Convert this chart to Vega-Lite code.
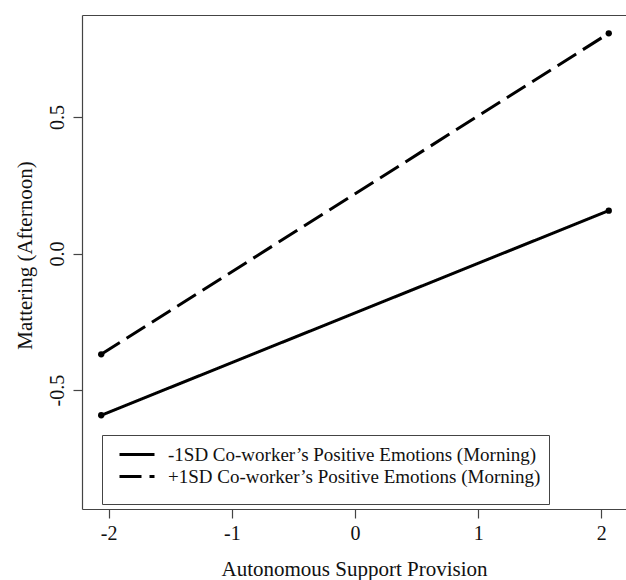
{
  "$schema": "https://vega.github.io/schema/vega-lite/v6.json",
  "width": 544,
  "height": 494,
  "autosize": "none",
  "padding": {"left": 82, "top": 15, "right": 0, "bottom": 71},
  "background": "white",
  "config": {"view": {"stroke": null}, "font": "Liberation Serif"},
  "data": {
    "values": [
      {"group": "-1SD Co-worker’s Positive Emotions (Morning)", "x": -2.06, "y": -0.592},
      {"group": "-1SD Co-worker’s Positive Emotions (Morning)", "x": 2.06, "y": 0.157},
      {"group": "+1SD Co-worker’s Positive Emotions (Morning)", "x": -2.06, "y": -0.369},
      {"group": "+1SD Co-worker’s Positive Emotions (Morning)", "x": 2.06, "y": 0.806}
    ]
  },
  "layer": [
    {
      "mark": {"type": "line", "color": "black", "strokeWidth": 3},
      "encoding": {
        "x": {
          "field": "x", "type": "quantitative",
          "scale": {"domain": [-2.216, 2.2], "nice": false, "zero": false},
          "axis": {
            "orient": "bottom", "values": [-2, -1, 0, 1, 2], "grid": false,
            "title": "Autonomous Support Provision",
            "labelFontSize": 20, "titleFontSize": 21, "titleFontWeight": "normal",
            "labelFont": "Liberation Serif", "titleFont": "Liberation Serif",
            "labelColor": "#111", "titleColor": "#111",
            "domainColor": "#444", "tickColor": "#444", "domainWidth": 1.2, "tickWidth": 1.2,
            "tickSize": 9, "labelPadding": 5, "labelFlush": false,
            "labelExpr": "replace(datum.label, '\u2212', '-')",
            "titleY": 66, "titleBaseline": "alphabetic"
          }
        },
        "y": {
          "field": "y", "type": "quantitative",
          "scale": {"domain": [-0.935, 0.873], "nice": false, "zero": false},
          "axis": {
            "values": [-0.5, 0, 0.5], "format": ".1f", "grid": false,
            "title": "Mattering (Afternoon)",
            "labelAngle": -90, "labelAlign": "center", "labelBaseline": "bottom",
            "labelFontSize": 20, "titleFontSize": 21, "titleFontWeight": "normal",
            "labelFont": "Liberation Serif", "titleFont": "Liberation Serif",
            "labelColor": "#111", "titleColor": "#111",
            "domainColor": "#444", "tickColor": "#444", "domainWidth": 1.2, "tickWidth": 1.2,
            "tickSize": 9, "labelPadding": 6, "labelFlush": false,
            "labelExpr": "replace(datum.label, '\u2212', '-')",
            "titleX": -57, "titleY": 240, "titleAlign": "center", "titleBaseline": "middle", "titleAngle": -90
          }
        },
        "strokeDash": {
          "field": "group", "type": "nominal",
          "scale": {
            "domain": ["-1SD Co-worker’s Positive Emotions (Morning)", "+1SD Co-worker’s Positive Emotions (Morning)"],
            "range": [[1, 0], [22, 8]]
          },
          "legend": {
            "orient": "none", "legendX": 20, "legendY": 420,
            "title": "\u00a0", "titleOrient": "bottom", "titleFontSize": 9, "titlePadding": 0,
            "symbolType": "M-1.75,0H1.75", "symbolSize": 400, "symbolStrokeWidth": 3,
            "symbolStrokeColor": "black", "symbolFillColor": "transparent", "symbolOffset": 15.5,
            "labelFontSize": 19, "labelFont": "Liberation Serif", "labelColor": "#111",
            "labelOffset": 19.5, "labelLimit": 600,
            "strokeColor": "#444", "fillColor": "white", "padding": 8, "rowPadding": -2,
            "encode": {
              "symbols": {
                "update": {
                  "strokeDash": {"signal": "indexof(datum.value, '+') === 0 ? [13, 9] : [1, 0]"}
                }
              }
            }
          }
        }
      }
    },
    {
      "mark": {"type": "point", "filled": true, "color": "black", "size": 40, "opacity": 1},
      "encoding": {
        "x": {
          "field": "x", "type": "quantitative",
          "axis": {"orient": "top", "labels": false, "ticks": false, "title": null, "grid": false, "domainColor": "#444", "domainWidth": 1.2}
        },
        "y": {"field": "y", "type": "quantitative", "axis": null}
      }
    }
  ],
  "resolve": {"axis": {"x": "independent", "y": "independent"}}
}
